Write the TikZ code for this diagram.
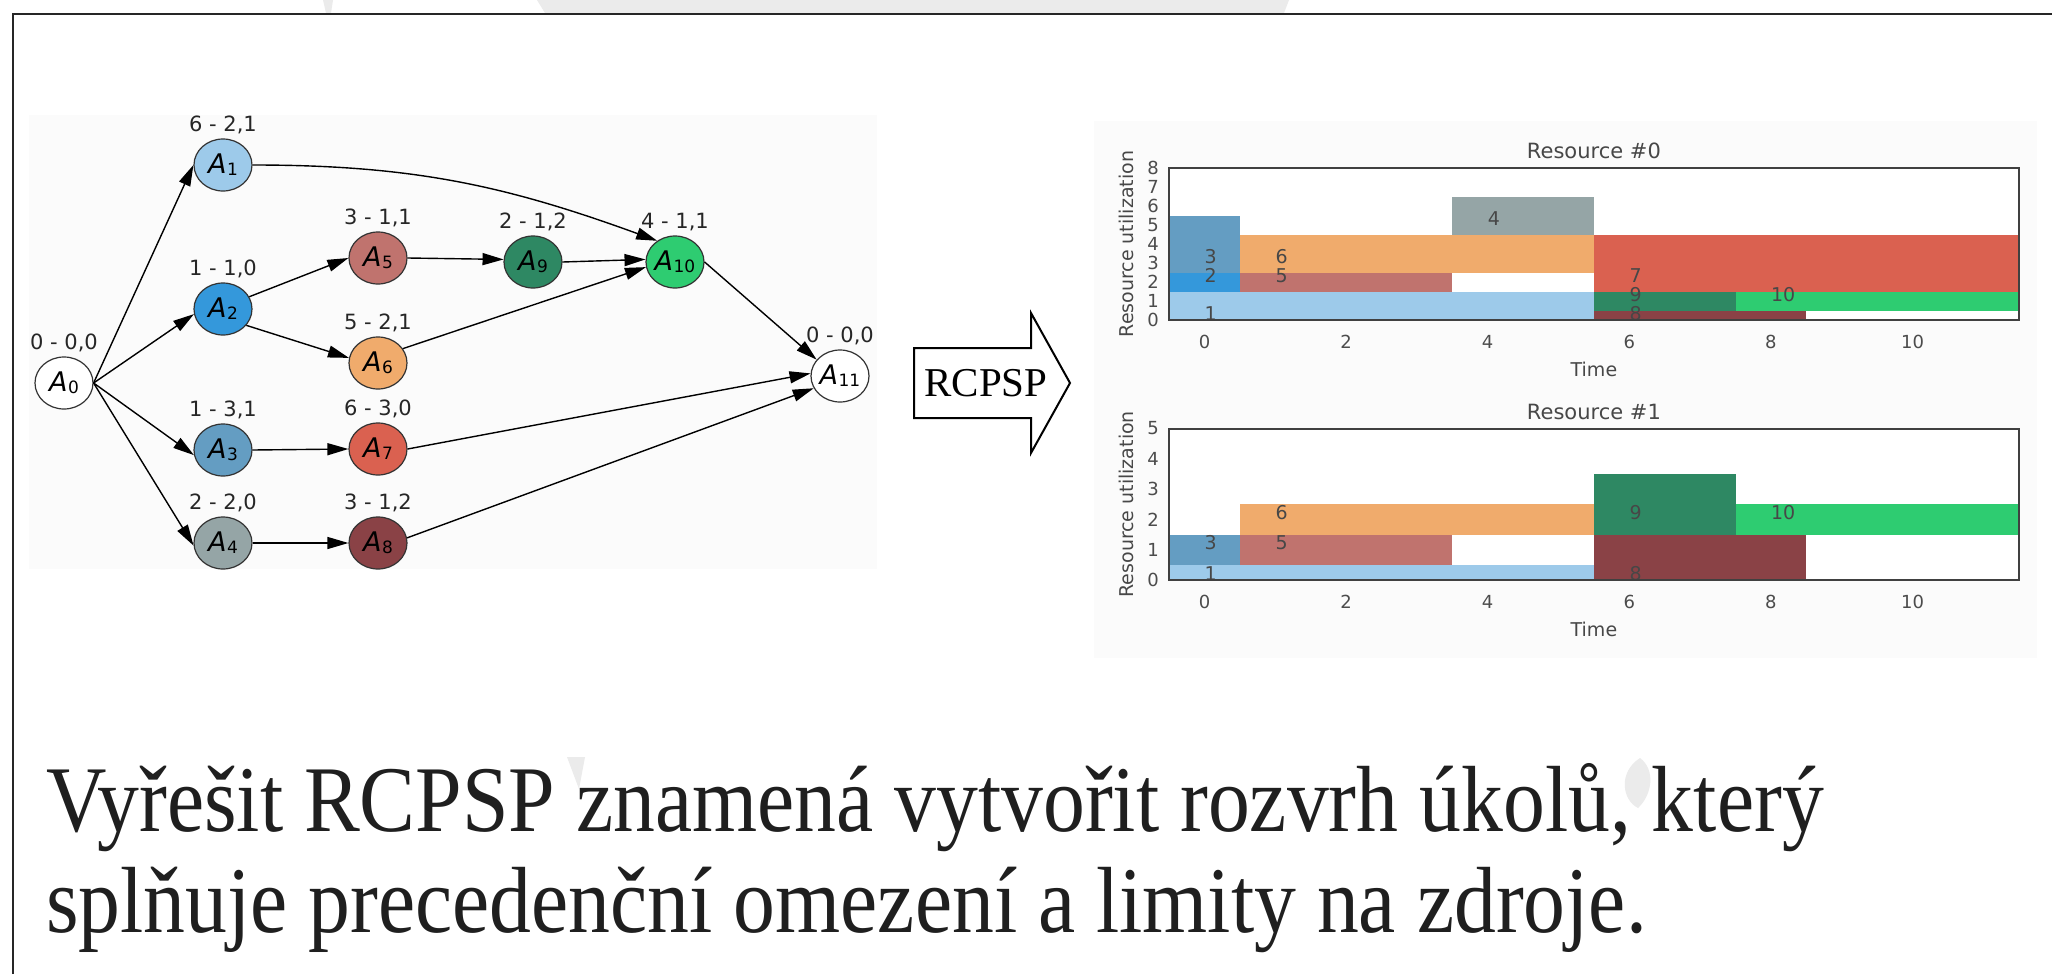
\documentclass[tikz,border=0pt]{standalone}
\usepackage{fontspec}
\setmainfont{DejaVu Sans}
\newfontfamily\slidefont[FakeStretch=0.89]{Liberation Serif}
\newfontfamily\arrowfont{Liberation Serif}
\usetikzlibrary{shapes.geometric,arrows.meta,positioning}

\definecolor{cA1}{HTML}{9DCAEA}
\definecolor{cA2}{HTML}{3498DB}
\definecolor{cA3}{HTML}{649DC2}
\definecolor{cA4}{HTML}{95A5A6}
\definecolor{cA5}{HTML}{C0736E}
\definecolor{cA6}{HTML}{F0AB6C}
\definecolor{cA7}{HTML}{DA6150}
\definecolor{cA8}{HTML}{8A4246}
\definecolor{cA9}{HTML}{2E8863}
\definecolor{cA10}{HTML}{2ECC71}

\newcommand{\actname}[1]{\textit{A}\kern0.5pt\raisebox{-2pt}{\fontsize{17}{17}\selectfont #1}}

\tikzset{
  act/.style={ellipse, draw=black!80, line width=1.2pt, minimum width=58pt,
    minimum height=52pt, inner sep=0pt, font=\fontsize{27}{27}\selectfont},
  lbl/.style={font=\fontsize{21}{21}\selectfont, text=black!85, inner sep=0pt},
  edge/.style={-{Triangle[length=21pt,width=12pt]}, line width=1.4pt},
  wmark/.style={fill=black!8},
  barlbl/.style={anchor=base west, inner sep=0pt, text=black!72,
    font=\fontsize{19}{19}\selectfont},
  axisframe/.style={draw=black!75, line width=2pt},
  xtick/.style={anchor=north, yshift=-15pt, inner sep=0pt, text=black!70,
    font=\fontsize{18}{18}\selectfont},
  ytick/.style={anchor=east, xshift=-10pt, inner sep=0pt, text=black!70,
    font=\fontsize{18}{18}\selectfont},
  axlabel/.style={inner sep=0pt, text=black!72, font=\fontsize{19}{19}\selectfont},
  charttitle/.style={inner sep=0pt, text=black!72, font=\fontsize{21}{21}\selectfont},
  slide/.style={anchor=base west, inner sep=0pt, text=black!88,
    font=\slidefont\fontsize{94}{94}\selectfont}
}

% start/duration/level/usage/colour/label
\def\resZero{0/6/0/2/cA1/1, 0/1/2/1/cA2/2, 0/1/3/3/cA3/3, 1/3/2/1/cA5/5,
  1/5/3/2/cA6/6, 4/2/5/2/cA4/4, 6/6/2/3/cA7/7, 6/2/1/1/cA9/9,
  6/3/0/1/cA8/8, 8/4/1/1/cA10/10}
\def\resOne{0/6/0/1/cA1/1, 0/1/1/1/cA3/3, 1/3/1/1/cA5/5, 1/5/2/1/cA6/6,
  6/3/0/2/cA8/8, 6/2/2/2/cA9/9, 8/4/2/1/cA10/10}

\begin{document}
\begin{tikzpicture}[x=1pt, y=-1pt]
\useasboundingbox (0,0) rectangle (2052,974);
\fill[white] (0,0) rectangle (2052,974);

% faint remnants of the slide background
\fill[wmark] (537,0) -- (1289,0) -- (1284,13) -- (545,13) -- cycle;
\fill[wmark] (323,0) -- (333,0) -- (331,13) -- (326,13) -- cycle;
\fill[wmark] (567,757) -- (585,757) -- (579,789) -- cycle;
\fill[wmark] (1640,758) .. controls (1656,770) and (1652,795) .. (1638,808)
  .. controls (1622,800) and (1618,772) .. (1640,758) -- cycle;

% slide frame
\draw[line width=2.5pt, black!85] (13,974) -- (13,14) -- (2052,14);

% precedence graph
\fill[black!1.5] (29,115) rectangle (877,569);
\node[act, fill=white, label={[lbl, label distance=4pt]above:0 - 0,0}] (a0) at (64,383) {\actname{0}};
\node[act, fill=cA1, label={[lbl, label distance=4pt]above:6 - 2,1}] (a1) at (223,165) {\actname{1}};
\node[act, fill=cA2, label={[lbl, label distance=4pt]above:1 - 1,0}] (a2) at (223,309) {\actname{2}};
\node[act, fill=cA3, label={[lbl, label distance=4pt]above:1 - 3,1}] (a3) at (223,450) {\actname{3}};
\node[act, fill=cA4, label={[lbl, label distance=4pt]above:2 - 2,0}] (a4) at (223,543) {\actname{4}};
\node[act, fill=cA5, label={[lbl, label distance=4pt]above:3 - 1,1}] (a5) at (378,258) {\actname{5}};
\node[act, fill=cA6, label={[lbl, label distance=4pt]above:5 - 2,1}] (a6) at (378,363) {\actname{6}};
\node[act, fill=cA7, label={[lbl, label distance=4pt]above:6 - 3,0}] (a7) at (378,449) {\actname{7}};
\node[act, fill=cA8, label={[lbl, label distance=4pt]above:3 - 1,2}] (a8) at (378,543) {\actname{8}};
\node[act, fill=cA9, label={[lbl, label distance=4pt]above:2 - 1,2}] (a9) at (533,262) {\actname{9}};
\node[act, fill=cA10, label={[lbl, label distance=4pt]above:4 - 1,1}] (a10) at (675,262) {\actname{10}};
\node[act, fill=white, label={[lbl, label distance=4pt]above:0 - 0,0}] (a11) at (840,376) {\actname{11}};

\draw[edge] (a0.east) -- (a1.west);
\draw[edge] (a0.east) -- (a2.190);
\draw[edge] (a0.east) -- (a3.190);
\draw[edge] (a0.east) -- (a4.185);
\draw[edge] (a2.25) -- (a5.west);
\draw[edge] (a2.-35) -- (a6.170);
\draw[edge] (a5.east) -- (a9.175);
\draw[edge] (a9.east) -- (a10.175);
\draw[edge] (a6.30) -- (a10.190);
\draw[edge] (a1.east) to[out=0, in=160] (a10.130);
\draw[edge] (a3.east) -- (a7.west);
\draw[edge] (a4.east) -- (a8.west);
\draw[edge] (a10.east) -- (a11.145);
\draw[edge] (a7.east) -- (a11.175);
\draw[edge] (a8.10) -- (a11.205);

% RCPSP arrow
\draw[line width=2pt, fill=white] (914,348) -- (1031,348) -- (1031,313) -- (1070,383)
  -- (1031,453) -- (1031,418) -- (914,418) -- cycle;
\node[inner sep=0pt, font=\arrowfont\fontsize{41}{41}\selectfont] (solve) at (986,383) {RCPSP};

% resource charts
\fill[black!1.5] (1094,121) rectangle (2037,658);

\begin{scope}[shift={(1204.5,320)}, x=70.8pt, y=19pt]
  \fill[white] (-0.5,0) rectangle (11.5,8);
  \begin{scope}
    \clip (-0.5,0) rectangle (11.5,8);
    \foreach \s/\d/\l/\u/\c/\n in \resZero
      \fill[\c] ({\s-0.5},{\l-0.5}) rectangle ({\s+\d-0.5},{\l+\u-0.5});
  \end{scope}
  \foreach \s/\d/\l/\u/\c/\n in \resZero
    \node[barlbl] (r0-\n) at (\s,\l) {\n};
  \draw[axisframe] (-0.5,0) rectangle (11.5,8);
  \foreach \t in {0,2,...,10}
    \node[xtick] (r0x-\t) at (\t,0) {\t};
  \foreach \v in {0,...,8}
    \node[ytick] (r0y-\v) at (-0.5,\v) {\v};
  \node[charttitle, yshift=17pt] (r0title) at (5.5,8) {Resource \#0};
  \node[axlabel, yshift=-49pt] (r0time) at (5.5,0) {Time};
  \node[axlabel, xshift=-43pt, rotate=90] (r0util) at (-0.5,4) {Resource utilization};
\end{scope}

\begin{scope}[shift={(1204.5,580)}, x=70.8pt, y=30.3pt]
  \fill[white] (-0.5,0) rectangle (11.5,5);
  \begin{scope}
    \clip (-0.5,0) rectangle (11.5,5);
    \foreach \s/\d/\l/\u/\c/\n in \resOne
      \fill[\c] ({\s-0.5},{\l-0.5}) rectangle ({\s+\d-0.5},{\l+\u-0.5});
  \end{scope}
  \foreach \s/\d/\l/\u/\c/\n in \resOne
    \node[barlbl] (r1-\n) at (\s,\l) {\n};
  \draw[axisframe] (-0.5,0) rectangle (11.5,5);
  \foreach \t in {0,2,...,10}
    \node[xtick] (r1x-\t) at (\t,0) {\t};
  \foreach \v in {0,...,5}
    \node[ytick] (r1y-\v) at (-0.5,\v) {\v};
  \node[charttitle, yshift=17pt] (r1title) at (5.5,5) {Resource \#1};
  \node[axlabel, yshift=-49pt] (r1time) at (5.5,0) {Time};
  \node[axlabel, xshift=-43pt, rotate=90] (r1util) at (-0.5,2.5) {Resource utilization};
\end{scope}

% statement
\node[slide] (line1) at (46,831) {Vyřešit RCPSP znamená vytvořit rozvrh úkolů, který};
\node[slide] (line2) at (46,932) {splňuje precedenční omezení a limity na zdroje.};
\end{tikzpicture}
\end{document}
